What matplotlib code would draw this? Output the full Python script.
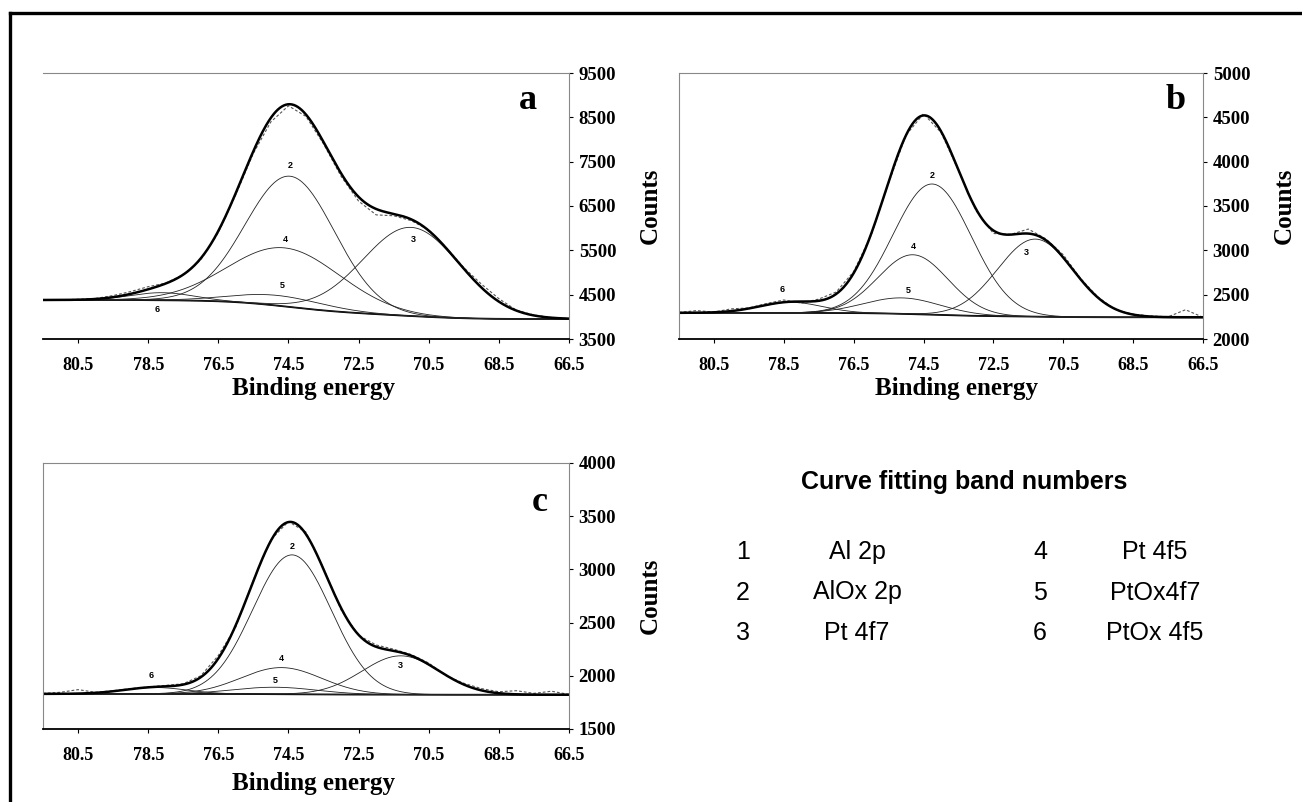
import numpy as np
import matplotlib
matplotlib.use('Agg')
import matplotlib.pyplot as plt
from matplotlib.lines import Line2D

# sampled binding energies of the measured spectra (eV)
energy = [81.5, 81.0, 80.5, 80.0, 79.5, 79.0, 78.5, 78.0, 77.5, 77.0, 76.5,
          76.0, 75.5, 75.0, 74.5, 74.0, 73.5, 73.0, 72.5, 72.0, 71.5, 71.0,
          70.5, 70.0, 69.5, 69.0, 68.5, 68.0, 67.5, 67.0, 66.5]

raw_a = [4375, 4385, 4395, 4415, 4480, 4570, 4680, 4760, 4950, 5290, 5900,
         6760, 7690, 8400, 8760, 8520, 7900, 7170, 6610, 6300, 6280, 6170,
         5960, 5560, 5110, 4740, 4410, 4150, 4040, 3985, 3960]
raw_b = [2300, 2320, 2305, 2340, 2350, 2400, 2440, 2405, 2450, 2530, 2760,
         3170, 3760, 4300, 4540, 4330, 3900, 3450, 3190, 3180, 3240, 3130,
         2950, 2680, 2470, 2330, 2280, 2260, 2250, 2330, 2245]
raw_c = [1835, 1845, 1870, 1845, 1860, 1880, 1895, 1910, 1925, 2000, 2190,
         2460, 2900, 3280, 3450, 3350, 3010, 2620, 2380, 2290, 2250, 2200,
         2120, 2000, 1930, 1880, 1850, 1860, 1835, 1855, 1825]

# curve fitting bands 2..6: centre (eV), height above background, width (sigma, eV)
band_ids = ['2', '3', '4', '5', '6']
center_a = [74.45, 71.0, 74.6, 74.8, 78.1]
height_a = [2950, 2000, 1320, 230, 170]
width_a = [1.27, 1.38, 1.6, 1.3, 0.9]
center_b = [74.25, 71.3, 74.8, 75.1, 78.3]
height_b = [1475, 875, 670, 180, 120]
width_b = [1.12, 1.08, 1.0, 1.1, 0.9]
center_c = [74.4, 71.3, 74.7, 74.88, 78.3]
height_c = [1310, 365, 250, 65, 60]
width_c = [1.12, 1.1, 1.15, 1.2, 0.9]

# background level at the high / low energy end
bg_a = [4380, 3950]
bg_b = [2295, 2245]
bg_c = [1830, 1822]

y_ticks_a = [3500, 4500, 5500, 6500, 7500, 8500, 9500]
y_ticks_b = [2000, 2500, 3000, 3500, 4000, 4500, 5000]
y_ticks_c = [1500, 2000, 2500, 3000, 3500, 4000]
x_ticks = [80.5, 78.5, 76.5, 74.5, 72.5, 70.5, 68.5, 66.5]

legend_nums = ['1', '2', '3', '4', '5', '6']
legend_names = ['Al 2p', 'AlOx 2p', 'Pt 4f7', 'Pt 4f5', 'PtOx4f7', 'PtOx 4f5']

SERIF = 'Liberation Serif'
SANS = 'Liberation Sans'

fig = plt.figure(figsize=(13.02, 8.02), dpi=100)
fig.patch.set_facecolor('white')

# outer frame (top and left edge)
fig.add_artist(Line2D([10 / 1302, 1.0], [1 - 13 / 802, 1 - 13 / 802], color='black', lw=2.4))
fig.add_artist(Line2D([10 / 1302, 10 / 1302], [0, 1 - 13 / 802], color='black', lw=2.4))


def draw_panel(rect, raw, centers, heights, widths, bg, yticks, letter, letter_pos,
               label_offsets, left_spine, xlabel_pos):
    ax = fig.add_axes(rect)
    e = np.linspace(81.5, 66.5, 800)
    comps = [h * np.exp(-(e - c) ** 2 / (2 * w ** 2)) for c, h, w in zip(centers, heights, widths)]
    total = np.sum(comps, axis=0)
    # shirley type background: step follows the integrated peak area
    cum = np.cumsum(total[::-1])[::-1]
    back = bg[1] + (bg[0] - bg[1]) * cum / cum[0]

    ax.plot(energy, raw, color='#555555', lw=0.8, ls=(0, (2.5, 1.8)))
    ax.plot(e, back, color='black', lw=1.3)
    for comp in comps:
        ax.plot(e, back + comp, color='#222222', lw=0.6)
    ax.plot(e, back + total, color='black', lw=1.8)

    for bid, comp, off in zip(band_ids, comps, label_offsets):
        i = np.argmax(comp)
        ax.annotate(bid, (e[i], back[i] + comp[i]), xytext=off, textcoords='offset points',
                    ha='center', va='center', fontsize=6.5, fontweight='bold', family=SANS)

    ax.set_xlim(81.5, 66.5)
    ax.set_ylim(yticks[0], yticks[-1])
    ax.set_xticks(x_ticks)
    ax.set_xticklabels([f'{v:.1f}' for v in x_ticks])
    ax.set_yticks(yticks)
    ax.yaxis.tick_right()
    ax.yaxis.set_label_position('right')
    ax.tick_params(axis='y', direction='out', length=3, width=0.8, pad=4, labelsize=13.5)
    ax.tick_params(axis='x', direction='out', length=3, width=0.8, pad=10, labelsize=13)
    for lab in ax.get_xticklabels() + ax.get_yticklabels():
        lab.set_family(SERIF)
        lab.set_fontweight('bold')
    for side in ['top', 'right', 'left']:
        ax.spines[side].set_color('#888888')
    ax.spines['left'].set_visible(left_spine)
    ax.spines['bottom'].set_color('black')
    ax.spines['bottom'].set_linewidth(1.3)
    ax.set_xlabel('Binding energy', family=SERIF, fontweight='bold', fontsize=18)
    ax.xaxis.set_label_coords(*xlabel_pos)
    ax.set_ylabel('Counts', family=SERIF, fontweight='bold', fontsize=18, labelpad=16)
    ax.text(letter_pos[0], letter_pos[1], letter, transform=ax.transAxes, family=SERIF,
            fontweight='bold', fontsize=26, ha='center', va='center')
    return ax


offs_a = [(0, 8), (2, -9), (0, 6), (3, 7), (-3.5, -12)]
offs_b = [(0, 6), (-6, -9.5), (0, 6), (4, 5), (-6, 9)]
offs_c = [(0, 6), (0, -7), (0, 6.5), (0, 5), (-3, 9)]

draw_panel([43 / 1302, 1 - 339 / 802, 526 / 1302, 266 / 802], raw_a, center_a, height_a, width_a,
           bg_a, y_ticks_a, 'a', (0.922, 0.898), offs_a, False, (0.515, -0.143))
draw_panel([679 / 1302, 1 - 339 / 802, 524 / 1302, 266 / 802], raw_b, center_b, height_b, width_b,
           bg_b, y_ticks_b, 'b', (0.947, 0.898), offs_b, True, (0.53, -0.143))
draw_panel([43 / 1302, 1 - 729 / 802, 526 / 1302, 266 / 802], raw_c, center_c, height_c, width_c,
           bg_c, y_ticks_c, 'c', (0.945, 0.85), offs_c, True, (0.515, -0.162))

# band legend
fig.text(964 / 1302, 1 - 482 / 802, 'Curve fitting band numbers', family=SANS, fontweight='bold',
         fontsize=18, ha='center', va='center')
for k, (num, name) in enumerate(zip(legend_nums, legend_names)):
    col, row = divmod(k, 3)
    y = 1 - (552 + row * 40.5) / 802
    fig.text((743 + col * 297) / 1302, y, num, family=SANS, fontsize=18, ha='center', va='center')
    fig.text((857 + col * 298) / 1302, y, name, family=SANS, fontsize=18, ha='center', va='center')

fig.savefig('out.png', dpi=100)
